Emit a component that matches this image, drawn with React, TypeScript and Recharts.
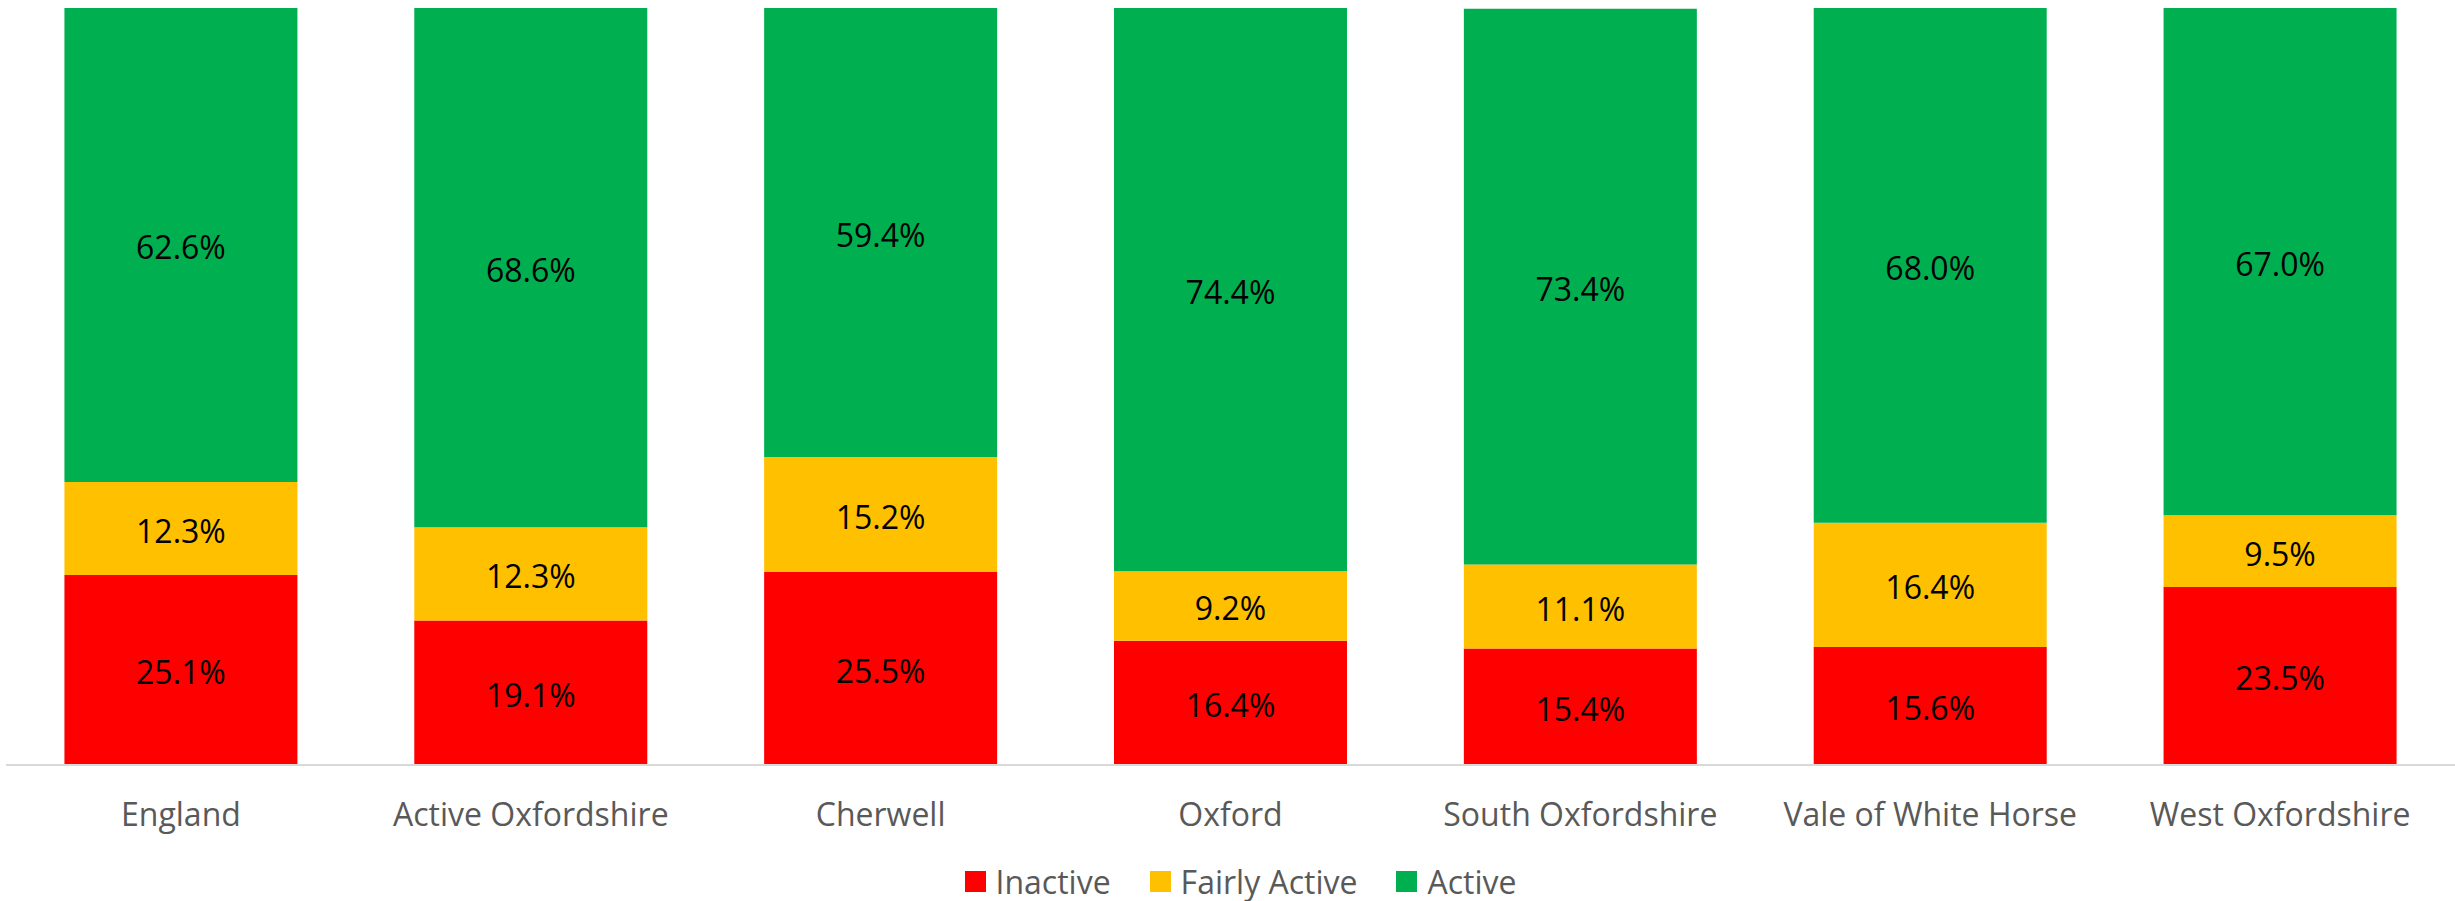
import React from "react";
import { BarChart, Bar, XAxis, YAxis, Legend, LabelList } from "recharts";

const categories = [
  "England",
  "Active Oxfordshire",
  "Cherwell",
  "Oxford",
  "South Oxfordshire",
  "Vale of White Horse",
  "West Oxfordshire",
];
const inactive = [25.1, 19.1, 25.5, 16.4, 15.4, 15.6, 23.5];
const fairlyActive = [12.3, 12.3, 15.2, 9.2, 11.1, 16.4, 9.5];
const active = [62.6, 68.6, 59.4, 74.4, 73.4, 68.0, 67.0];

const seriesNames = ["Inactive", "Fairly Active", "Active"];
const seriesColors = ["#FF0000", "#FFC000", "#00B050"];

const data = categories.map((c, i) => ({
  name: c,
  inactive: inactive[i],
  fairly: fairlyActive[i],
  active: active[i],
}));

const FONT = "'Open Sans', sans-serif";

const fmt = (v: any) => `${Number(v).toFixed(1)}%`;

const Tick = (props: any) => {
  const { x, y, payload } = props;
  return (
    <text
      x={x}
      y={y}
      dy={53}
      textAnchor="middle"
      fill="#595959"
      fontSize={32}
      fontFamily={FONT}
    >
      {payload.value}
    </text>
  );
};

const LegendContent = () => (
  <div
    style={{
      display: "flex",
      justifyContent: "center",
      alignItems: "center",
      fontFamily: FONT,
      fontSize: 32,
      color: "#595959",
      height: 40,
      paddingLeft: 20,
    }}
  >
    {seriesNames.map((n, i) => (
      <div key={n} style={{ display: "flex", alignItems: "center", marginRight: i < 2 ? 39 : 0 }}>
        <div style={{ width: 21, height: 21, background: seriesColors[i], marginRight: 10 }} />
        <span>{n}</span>
      </div>
    ))}
  </div>
);

export default function App() {
  return (
    <div style={{ width: 2455, height: 901, position: "absolute", left: 0, top: 0, background: "#fff" }}>
      <style>{`body{margin:0}`}</style>
      <BarChart
        width={2455}
        height={901}
        data={data}
        margin={{ top: 8, right: 0, left: 6, bottom: 0 }}
        barCategoryGap="16.7%"
      >
        <XAxis
          dataKey="name"
          axisLine={{ stroke: "#D9D9D9", strokeWidth: 2 }}
          tickLine={false}
          tick={<Tick />}
          height={96}
          interval={0}
        />
        <YAxis hide domain={[0, 100]} allowDataOverflow type="number" />
        <Legend verticalAlign="bottom" content={<LegendContent />} wrapperStyle={{ height: 40 }} />
        <Bar dataKey="inactive" stackId="a" fill={seriesColors[0]} isAnimationActive={false}>
          <LabelList dataKey="inactive" position="center" formatter={fmt} fill="#000" fontSize={32} fontFamily={FONT} dy={3} />
        </Bar>
        <Bar dataKey="fairly" stackId="a" fill={seriesColors[1]} isAnimationActive={false}>
          <LabelList dataKey="fairly" position="center" formatter={fmt} fill="#000" fontSize={32} fontFamily={FONT} dy={3} />
        </Bar>
        <Bar dataKey="active" stackId="a" fill={seriesColors[2]} isAnimationActive={false}>
          <LabelList dataKey="active" position="center" formatter={fmt} fill="#000" fontSize={32} fontFamily={FONT} dy={3} />
        </Bar>
      </BarChart>
    </div>
  );
}
